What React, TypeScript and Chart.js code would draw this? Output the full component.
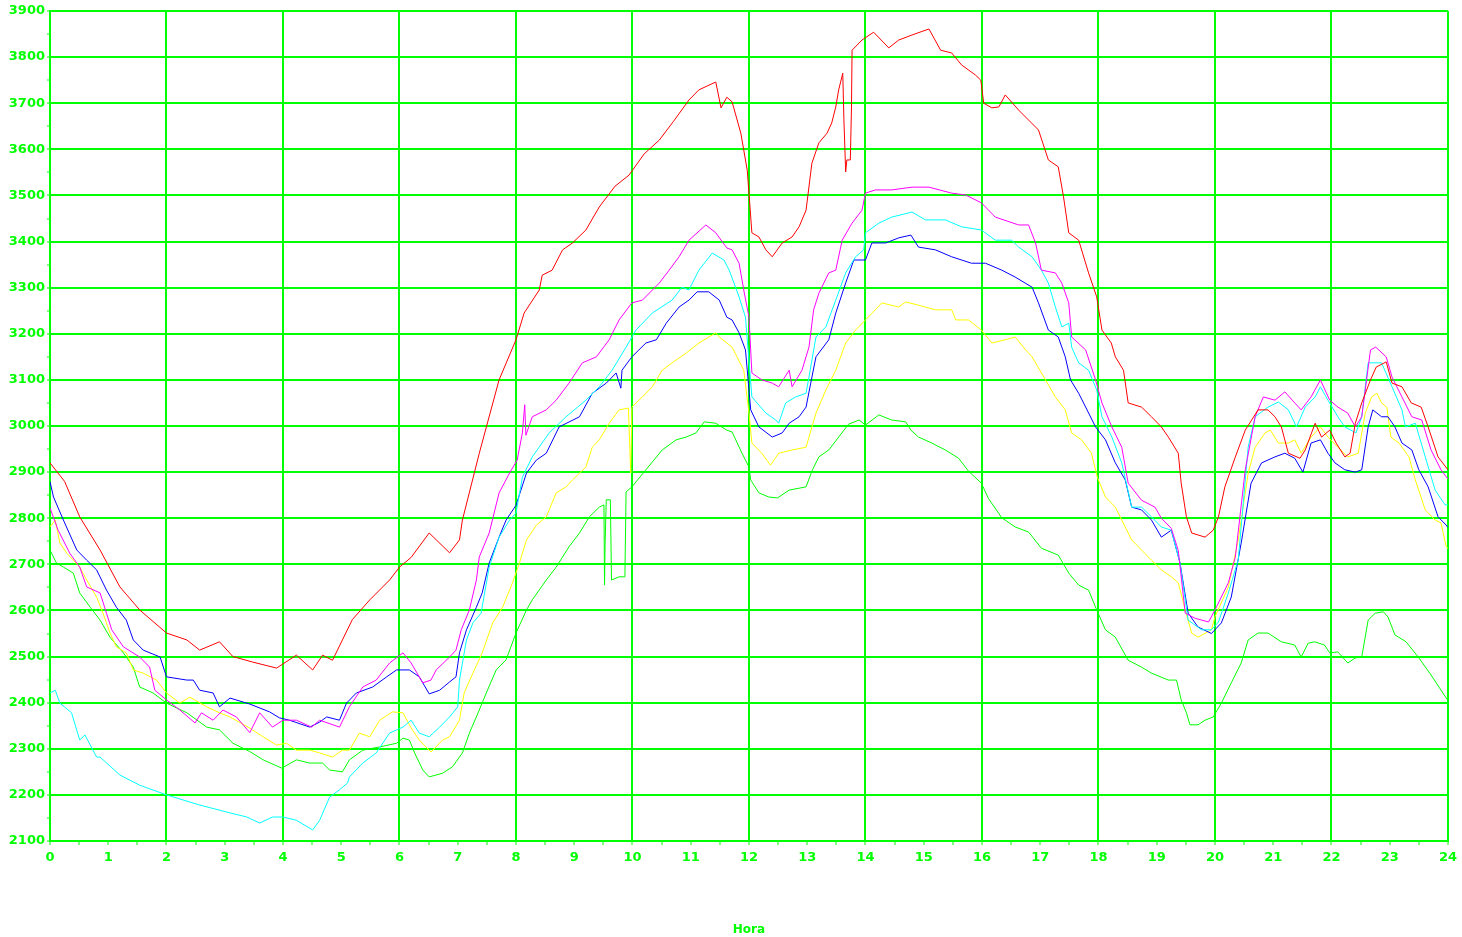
import React, { useEffect, useRef } from 'react';
import { Chart, registerables } from 'chart.js';

Chart.register(...registerables);

// Each series: [hour, value] pairs
const red: number[][] = [[0,2920],[0.25,2880],[0.51,2803],[0.86,2731],[1.2,2651],[1.54,2601],[2.0,2551],[2.35,2536],[2.57,2514],[2.91,2532],[3.14,2500],[3.48,2488],[3.89,2475],[4.23,2503],[4.51,2471],[4.68,2503],[4.85,2492],[5.02,2536],[5.19,2580],[5.49,2623],[5.83,2666],[6.0,2694],[6.2,2715],[6.51,2768],[6.86,2725],[7.03,2753],[7.08,2796],[7.37,2941],[7.71,3100],[8.0,3187],[8.14,3245],[8.4,3295],[8.45,3327],[8.62,3338],[8.8,3382],[8.97,3397],[9.2,3425],[9.43,3475],[9.7,3520],[9.94,3544],[10.2,3590],[10.46,3620],[10.7,3660],[10.97,3707],[11.14,3729],[11.43,3746],[11.52,3690],[11.62,3713],[11.71,3703],[11.86,3635],[11.97,3555],[12.0,3505],[12.05,3419],[12.17,3410],[12.29,3382],[12.4,3367],[12.57,3397],[12.74,3410],[12.86,3432],[12.98,3468],[13.08,3570],[13.2,3614],[13.34,3635],[13.42,3657],[13.49,3692],[13.54,3729],[13.61,3765],[13.63,3664],[13.66,3551],[13.68,3577],[13.74,3577],[13.76,3692],[13.77,3815],[13.94,3837],[14.14,3854],[14.4,3820],[14.57,3837],[14.8,3848],[15.09,3861],[15.29,3815],[15.48,3809],[15.65,3783],[15.89,3761],[15.98,3750],[16.03,3700],[16.17,3690],[16.29,3692],[16.4,3718],[16.63,3685],[16.97,3642],[17.14,3577],[17.31,3562],[17.4,3497],[17.49,3419],[17.66,3403],[17.83,3332],[17.97,3280],[18.06,3208],[18.22,3180],[18.29,3150],[18.43,3121],[18.51,3050],[18.74,3041],[18.91,3020],[19.08,2998],[19.2,2976],[19.37,2941],[19.42,2876],[19.51,2803],[19.6,2768],[19.83,2759],[19.97,2774],[20.06,2803],[20.17,2868],[20.35,2933],[20.52,2991],[20.74,3035],[20.91,3035],[21.03,3020],[21.14,2998],[21.26,2941],[21.46,2930],[21.55,2948],[21.72,3006],[21.83,2976],[21.97,2991],[22.08,2963],[22.23,2933],[22.32,2941],[22.41,3006],[22.52,3050],[22.67,3100],[22.77,3128],[22.94,3139],[23.04,3093],[23.21,3085],[23.37,3050],[23.54,3041],[23.66,2998],[23.83,2933],[24,2905]];

const magenta: number[][] = [[0,2822],[0.14,2774],[0.34,2724],[0.51,2694],[0.63,2651],[0.86,2638],[0.97,2594],[1.06,2558],[1.26,2521],[1.54,2499],[1.71,2477],[1.8,2427],[2.0,2406],[2.23,2384],[2.49,2356],[2.6,2378],[2.8,2362],[2.97,2384],[3.2,2369],[3.43,2335],[3.6,2378],[3.82,2347],[4.0,2362],[4.23,2362],[4.49,2347],[4.63,2362],[4.97,2347],[5.14,2391],[5.37,2434],[5.6,2449],[5.83,2486],[6.06,2508],[6.2,2486],[6.4,2443],[6.54,2449],[6.63,2471],[6.86,2499],[6.97,2514],[7.06,2558],[7.2,2601],[7.32,2666],[7.37,2716],[7.54,2768],[7.71,2855],[7.89,2898],[8.02,2926],[8.11,2985],[8.15,3046],[8.17,2980],[8.28,3020],[8.52,3035],[8.69,3056],[8.91,3093],[9.14,3137],[9.38,3150],[9.6,3187],[9.77,3230],[9.99,3267],[10.17,3273],[10.46,3310],[10.63,3338],[10.8,3367],[10.97,3403],[11.26,3436],[11.43,3419],[11.62,3386],[11.71,3382],[11.83,3353],[11.91,3295],[12.0,3236],[12.05,3115],[12.22,3100],[12.4,3093],[12.51,3085],[12.69,3121],[12.74,3085],[12.91,3121],[13.03,3171],[13.11,3252],[13.2,3288],[13.37,3332],[13.49,3338],[13.6,3403],[13.77,3440],[13.94,3468],[14.0,3505],[14.17,3512],[14.45,3512],[14.8,3518],[15.09,3518],[15.48,3505],[15.72,3501],[15.99,3484],[16.23,3453],[16.63,3436],[16.8,3436],[16.92,3397],[17.02,3338],[17.26,3332],[17.37,3310],[17.49,3267],[17.54,3193],[17.78,3165],[17.95,3100],[18.06,3050],[18.23,2998],[18.4,2954],[18.51,2876],[18.74,2839],[18.97,2824],[19.08,2800],[19.25,2778],[19.37,2730],[19.49,2594],[19.66,2583],[19.89,2575],[20.0,2601],[20.23,2660],[20.35,2716],[20.52,2905],[20.69,3020],[20.83,3063],[21.03,3056],[21.2,3074],[21.37,3050],[21.48,3035],[21.65,3063],[21.81,3100],[21.97,3056],[22.11,3041],[22.28,3028],[22.41,2998],[22.52,3020],[22.67,3165],[22.76,3171],[22.94,3150],[23.04,3106],[23.21,3063],[23.38,3020],[23.55,3013],[23.71,2948],[23.88,2905],[24,2885]];

const cyan: number[][] = [[0,2421],[0.09,2427],[0.17,2399],[0.37,2378],[0.51,2319],[0.6,2330],[0.8,2282],[0.86,2282],[1.2,2243],[1.54,2221],[2.0,2200],[2.57,2178],[3.09,2161],[3.38,2152],[3.6,2139],[3.82,2152],[4.0,2152],[4.23,2145],[4.51,2124],[4.63,2145],[4.8,2195],[4.97,2211],[5.11,2226],[5.14,2239],[5.37,2269],[5.6,2291],[5.83,2334],[6.06,2347],[6.2,2362],[6.34,2334],[6.51,2326],[6.69,2347],[6.86,2369],[7.0,2391],[7.03,2449],[7.15,2536],[7.26,2573],[7.4,2594],[7.54,2694],[7.71,2759],[7.89,2796],[8.0,2811],[8.11,2889],[8.28,2933],[8.57,2985],[8.86,3020],[9.2,3056],[9.43,3085],[9.65,3121],[9.89,3171],[10.06,3208],[10.34,3245],[10.68,3273],[10.85,3301],[10.97,3295],[11.14,3338],[11.37,3375],[11.57,3360],[11.66,3338],[11.83,3280],[11.94,3236],[12.05,3063],[12.29,3028],[12.46,3013],[12.51,3006],[12.63,3050],[12.8,3063],[12.98,3071],[13.03,3106],[13.15,3193],[13.32,3215],[13.49,3273],[13.66,3332],[13.83,3367],[13.97,3382],[14.0,3419],[14.23,3440],[14.45,3453],[14.8,3464],[15.03,3447],[15.37,3447],[15.65,3432],[15.99,3425],[16.23,3403],[16.51,3403],[16.63,3388],[16.86,3367],[17.02,3338],[17.14,3310],[17.26,3258],[17.37,3215],[17.49,3223],[17.54,3171],[17.66,3137],[17.83,3121],[17.97,3078],[18.06,3020],[18.23,2976],[18.4,2920],[18.57,2824],[18.74,2824],[18.91,2803],[19.08,2781],[19.25,2774],[19.4,2703],[19.54,2579],[19.77,2558],[19.94,2558],[20.06,2575],[20.23,2638],[20.4,2710],[20.57,2954],[20.69,3020],[20.91,3041],[21.09,3052],[21.26,3035],[21.4,2998],[21.55,3041],[21.72,3063],[21.81,3085],[21.94,3056],[22.11,3020],[22.23,2998],[22.42,2985],[22.52,3020],[22.63,3137],[22.86,3137],[23.04,3085],[23.21,3035],[23.27,2998],[23.44,3006],[23.61,2933],[23.78,2861],[23.95,2829],[24,2829]];

const blue: number[][] = [[0,2879],[0.06,2846],[0.23,2796],[0.46,2731],[0.63,2709],[0.8,2688],[0.97,2644],[1.14,2607],[1.31,2579],[1.43,2536],[1.6,2514],[1.89,2499],[2.0,2456],[2.35,2449],[2.46,2449],[2.57,2427],[2.8,2421],[2.91,2391],[3.09,2410],[3.43,2397],[3.77,2380],[3.94,2367],[4.11,2362],[4.46,2347],[4.63,2358],[4.75,2369],[4.97,2362],[5.09,2399],[5.26,2421],[5.54,2434],[5.78,2456],[5.95,2471],[6.17,2471],[6.34,2456],[6.51,2419],[6.69,2427],[6.86,2445],[6.97,2456],[7.03,2508],[7.15,2558],[7.32,2607],[7.42,2638],[7.54,2703],[7.71,2759],[7.83,2796],[8.0,2828],[8.18,2898],[8.35,2926],[8.52,2941],[8.74,2998],[9.09,3020],[9.31,3071],[9.55,3093],[9.72,3115],[9.8,3082],[9.82,3121],[9.99,3150],[10.23,3180],[10.41,3187],[10.58,3223],[10.8,3258],[10.97,3273],[11.11,3291],[11.31,3291],[11.49,3273],[11.62,3236],[11.71,3230],[11.83,3202],[11.94,3165],[12.03,3035],[12.17,2998],[12.4,2976],[12.57,2985],[12.69,3006],[12.86,3020],[12.98,3041],[13.06,3093],[13.15,3150],[13.37,3187],[13.49,3245],[13.66,3310],[13.8,3360],[14.0,3360],[14.11,3397],[14.35,3397],[14.57,3408],[14.78,3414],[14.91,3388],[15.2,3382],[15.48,3367],[15.82,3353],[16.06,3353],[16.34,3338],[16.57,3323],[16.86,3301],[16.97,3267],[17.14,3208],[17.31,3193],[17.43,3150],[17.52,3100],[17.66,3071],[17.78,3041],[17.95,2998],[18.12,2970],[18.29,2920],[18.46,2883],[18.57,2824],[18.74,2818],[18.91,2796],[19.08,2759],[19.25,2774],[19.4,2703],[19.54,2594],[19.71,2564],[19.94,2550],[20.11,2573],[20.28,2629],[20.45,2746],[20.62,2876],[20.8,2920],[21.03,2933],[21.2,2941],[21.37,2930],[21.51,2900],[21.65,2963],[21.81,2970],[21.94,2941],[22.06,2920],[22.23,2905],[22.41,2900],[22.52,2905],[22.63,2998],[22.71,3035],[22.86,3020],[22.97,3020],[23.09,2998],[23.21,2963],[23.38,2948],[23.5,2905],[23.66,2868],[23.83,2803],[23.97,2785],[24,2780]];

const yellow: number[][] = [[0,2781],[0.09,2796],[0.17,2746],[0.29,2724],[0.51,2694],[0.63,2666],[0.8,2629],[0.91,2594],[1.03,2551],[1.14,2521],[1.31,2508],[1.43,2471],[1.6,2464],[1.83,2449],[2.0,2421],[2.23,2399],[2.4,2412],[2.69,2391],[2.91,2378],[3.09,2369],[3.4,2347],[3.66,2326],[3.89,2308],[4.06,2312],[4.23,2297],[4.46,2297],[4.63,2291],[4.85,2282],[5.02,2297],[5.14,2297],[5.31,2334],[5.49,2326],[5.66,2362],[5.88,2380],[6.06,2378],[6.2,2345],[6.34,2319],[6.54,2293],[6.74,2319],[6.86,2326],[7.03,2362],[7.11,2421],[7.26,2464],[7.42,2508],[7.6,2573],[7.77,2607],[7.94,2660],[8.06,2703],[8.18,2753],[8.35,2785],[8.52,2803],[8.69,2855],[8.86,2868],[8.97,2883],[9.2,2911],[9.31,2954],[9.43,2970],[9.6,3006],[9.77,3035],[9.93,3039],[9.97,2898],[9.99,3041],[10.17,3063],[10.34,3085],[10.51,3121],[10.68,3137],[10.92,3158],[11.14,3180],[11.43,3202],[11.49,3193],[11.62,3180],[11.71,3171],[11.91,3121],[12.0,3028],[12.05,2963],[12.22,2941],[12.37,2915],[12.51,2941],[12.74,2948],[12.98,2954],[13.03,2976],[13.15,3028],[13.32,3078],[13.49,3121],[13.66,3180],[13.83,3208],[14.0,3230],[14.17,3252],[14.28,3267],[14.57,3258],[14.69,3269],[14.91,3262],[15.2,3252],[15.48,3252],[15.55,3230],[15.77,3230],[15.99,3208],[16.17,3180],[16.4,3187],[16.57,3193],[16.75,3165],[16.86,3150],[17.09,3100],[17.26,3063],[17.43,3035],[17.54,2985],[17.71,2970],[17.88,2941],[17.98,2889],[18.12,2846],[18.29,2824],[18.4,2796],[18.57,2753],[18.74,2731],[18.91,2709],[19.08,2688],[19.25,2673],[19.37,2660],[19.49,2601],[19.6,2551],[19.71,2542],[19.94,2558],[20.0,2586],[20.23,2651],[20.4,2753],[20.57,2898],[20.69,2954],[20.86,2985],[20.95,2991],[21.09,2963],[21.26,2963],[21.37,2970],[21.48,2941],[21.65,2976],[21.81,2998],[21.94,2976],[22.11,2954],[22.28,2933],[22.46,2941],[22.58,3028],[22.69,3063],[22.78,3071],[22.86,3050],[22.95,3041],[23.02,2976],[23.16,2963],[23.33,2933],[23.44,2883],[23.61,2818],[23.78,2796],[23.88,2790],[23.97,2738],[24,2735]];

const green: number[][] = [[0,2731],[0.11,2703],[0.23,2694],[0.4,2681],[0.51,2638],[0.69,2607],[0.86,2579],[1.03,2542],[1.26,2508],[1.43,2477],[1.54,2434],[1.77,2421],[2.0,2399],[2.35,2378],[2.69,2347],[2.91,2341],[3.14,2312],[3.43,2294],[3.66,2276],[3.98,2258],[4.23,2276],[4.46,2269],[4.68,2269],[4.8,2254],[5.02,2250],[5.14,2276],[5.37,2297],[5.66,2304],[5.95,2312],[6.06,2323],[6.17,2319],[6.26,2291],[6.4,2254],[6.51,2239],[6.74,2247],[6.91,2261],[7.08,2291],[7.2,2334],[7.37,2384],[7.49,2421],[7.66,2471],[7.83,2493],[8.0,2551],[8.18,2601],[8.28,2623],[8.52,2666],[8.69,2694],[8.91,2738],[9.09,2768],[9.26,2803],[9.43,2824],[9.51,2829],[9.52,2655],[9.53,2746],[9.55,2840],[9.62,2840],[9.64,2666],[9.77,2673],[9.87,2673],[9.89,2857],[9.99,2868],[10.23,2905],[10.51,2948],[10.75,2970],[10.92,2976],[11.09,2985],[11.23,3009],[11.43,3006],[11.62,2991],[11.71,2987],[11.88,2941],[12.0,2911],[12.03,2883],[12.17,2855],[12.34,2846],[12.49,2844],[12.69,2861],[12.98,2868],[13.09,2905],[13.2,2933],[13.37,2948],[13.54,2976],[13.71,3004],[13.89,3013],[14.0,3002],[14.23,3024],[14.45,3013],[14.69,3009],[14.78,2991],[14.91,2976],[15.14,2963],[15.37,2948],[15.6,2930],[15.77,2902],[15.99,2876],[16.11,2843],[16.34,2801],[16.57,2781],[16.8,2770],[17.02,2735],[17.31,2720],[17.49,2681],[17.66,2655],[17.83,2644],[17.97,2601],[18.12,2558],[18.29,2542],[18.51,2492],[18.74,2477],[18.91,2464],[19.2,2449],[19.34,2449],[19.42,2406],[19.51,2378],[19.57,2352],[19.71,2352],[19.83,2362],[19.97,2369],[20.11,2399],[20.28,2443],[20.45,2486],[20.57,2536],[20.74,2551],[20.91,2551],[21.14,2532],[21.37,2525],[21.48,2499],[21.6,2529],[21.71,2532],[21.88,2525],[21.97,2508],[22.11,2510],[22.28,2486],[22.41,2497],[22.52,2499],[22.63,2579],[22.75,2594],[22.89,2597],[22.97,2586],[23.09,2547],[23.28,2532],[23.49,2499],[23.71,2460],[23.97,2410],[24,2405]];

const seriesNames = ['rojo', 'magenta', 'cian', 'azul', 'amarillo', 'verde'];
const seriesColors = ['#ff0000', '#ff00ff', '#00ffff', '#0000ff', '#ffff00', '#00ff00'];
const seriesData = [red, magenta, cyan, blue, yellow, green];

const xMin = 0;
const xMax = 24;
const yMin = 2100;
const yMax = 3900;
const xTitle = 'Hora';

const AXIS_GREEN = '#00ff00';
const TICK_FONT = { family: '"DejaVu Sans", sans-serif', size: 13, weight: 'bold' as const };

export default function App() {
  const ref = useRef<HTMLCanvasElement>(null);

  useEffect(() => {
    if (!ref.current) return;
    const datasets = seriesData.map((arr, i) => ({
      label: seriesNames[i],
      data: arr.map(([x, y]) => ({ x, y })),
      borderColor: seriesColors[i],
      backgroundColor: seriesColors[i],
      borderWidth: 1,
      pointRadius: 0,
      fill: false,
      tension: 0,
    }));
    const chart = new Chart(ref.current, {
      type: 'line',
      data: { datasets },
      options: {
        responsive: false,
        animation: false,
        events: [],
        plugins: { legend: { display: false }, tooltip: { enabled: false } },
        layout: { padding: { top: 11, right: 11, bottom: 0, left: 0 } },
        scales: {
          x: {
            type: 'linear',
            min: xMin,
            max: xMax,
            afterFit: (s: any) => { s.height = 96; },
            ticks: {
              stepSize: 0.5,
              autoSkip: false,
              maxRotation: 0,
              color: AXIS_GREEN,
              font: TICK_FONT,
              padding: 5,
              callback: (v: any) => (Number.isInteger(Number(v)) ? String(v) : ''),
            },
            grid: {
              color: (c: any) => (c.tick && c.tick.value % 2 === 0 ? AXIS_GREEN : 'rgba(0,0,0,0)'),
              lineWidth: 2,
              tickColor: AXIS_GREEN,
              tickLength: 4,
              tickWidth: 1,
            },
            border: { color: AXIS_GREEN, width: 2 },
            title: {
              display: true,
              text: xTitle,
              color: AXIS_GREEN,
              font: { ...TICK_FONT, size: 12 },
              padding: { top: 0, bottom: 0 },
            },
          },
          y: {
            type: 'linear',
            min: yMin,
            max: yMax,
            afterFit: (s: any) => { s.width = 50; },
            ticks: {
              stepSize: 50,
              autoSkip: false,
              color: AXIS_GREEN,
              font: TICK_FONT,
              padding: 2,
              callback: (v: any) => (Number(v) % 100 === 0 ? String(v) : ''),
            },
            grid: {
              color: (c: any) => (c.tick && c.tick.value % 100 === 0 ? AXIS_GREEN : 'rgba(0,0,0,0)'),
              lineWidth: 2,
              tickColor: AXIS_GREEN,
              tickLength: 3,
              tickWidth: 1,
            },
            border: { color: AXIS_GREEN, width: 2 },
          },
        },
      },
    });
    return () => chart.destroy();
  }, []);

  return (
    <div style={{ position: 'absolute', left: 0, top: 0, width: 1462, height: 937, background: '#ffffff' }}>
      <canvas ref={ref} width={1462} height={937} style={{ display: 'block' }} />
    </div>
  );
}
